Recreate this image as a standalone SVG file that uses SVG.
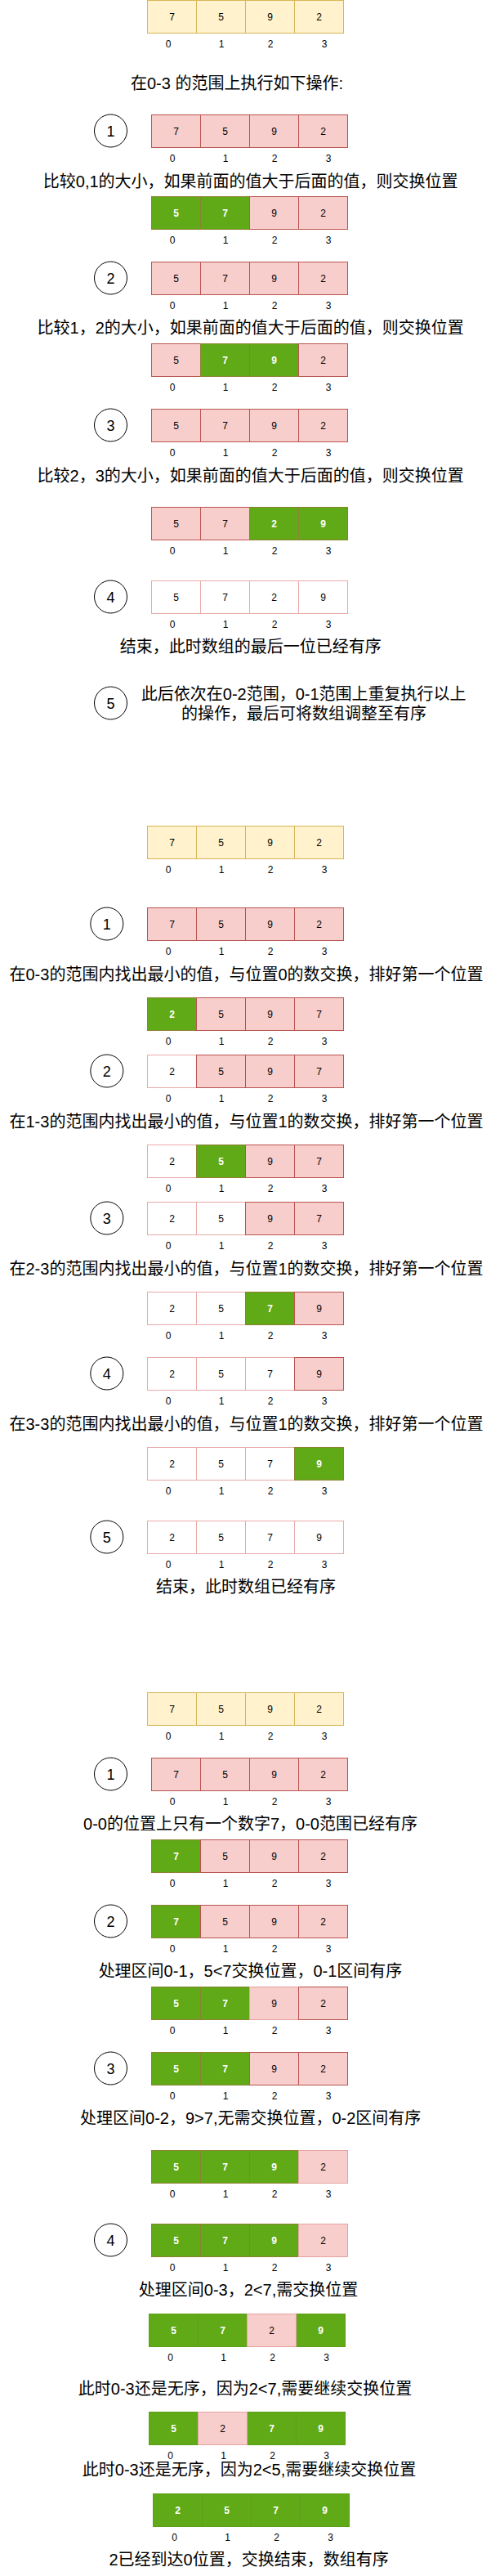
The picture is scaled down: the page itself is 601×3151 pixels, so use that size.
<svg xmlns="http://www.w3.org/2000/svg" width="601" height="3151" viewBox="0 0 601 3151">
<style>
.y{fill:#fff2cc;stroke:#d6b656}
.r{fill:#f8cecc;stroke:#b85450}
.p{fill:#f8cecc;stroke:#e6a3a1}
.w{fill:#ffffff;stroke:#e8aaa8}
.g{fill:#60a917;stroke:#8c8232}
.G{fill:#60a917;stroke:#5c9f18}
rect{stroke-width:1}
.v{font-family:"Liberation Sans",Arial,sans-serif;font-size:12px;fill:#000;text-anchor:middle}
.vw{font-family:"Liberation Sans",Arial,sans-serif;font-size:12px;fill:#fff;font-weight:bold;text-anchor:middle}
.i{font-family:"Liberation Sans",Arial,sans-serif;font-size:12px;fill:#000;text-anchor:middle}
.t{font-family:"Liberation Sans","Noto Sans CJK SC",sans-serif;font-size:20px;fill:#000;text-anchor:middle}
.c{fill:#fff;stroke:#000;stroke-width:1}
.cl{font-family:"Liberation Sans",Arial,sans-serif;font-size:18px;fill:#000;text-anchor:middle}
</style>
<rect x="0" y="0" width="601" height="3151" fill="#ffffff"/>
<g id="connectors"/>

<!-- Section 1 -->
<g id="A0">
<rect class="y" x="180.5" y="0.5" width="60" height="40"/><rect class="y" x="240.5" y="0.5" width="60" height="40"/><rect class="y" x="300.5" y="0.5" width="60" height="40"/><rect class="y" x="360.5" y="0.5" width="60" height="40"/>
<text class="v" x="210.5" y="24.5">7</text><text class="v" x="270.5" y="24.5">5</text><text class="v" x="330.5" y="24.5">9</text><text class="v" x="390.5" y="24.5">2</text>
<text class="i" x="206" y="58.3">0</text><text class="i" x="271" y="58.3">1</text><text class="i" x="331" y="58.3">2</text><text class="i" x="397" y="58.3">3</text>
</g>
<g id="title1"><text class="t" x="290" y="109">在0-3 的范围上执行如下操作:</text></g>

<g id="s1c1"><circle class="c" cx="135.5" cy="160" r="20"/><text class="cl" x="135.5" y="166.5">1</text></g>
<g id="A1">
<rect class="r" x="185.5" y="140.5" width="60" height="40"/><rect class="r" x="245.5" y="140.5" width="60" height="40"/><rect class="r" x="305.5" y="140.5" width="60" height="40"/><rect class="r" x="365.5" y="140.5" width="60" height="40"/>
<text class="v" x="215.5" y="164.5">7</text><text class="v" x="275.5" y="164.5">5</text><text class="v" x="335.5" y="164.5">9</text><text class="v" x="395.5" y="164.5">2</text>
<text class="i" x="211" y="198.3">0</text><text class="i" x="276" y="198.3">1</text><text class="i" x="336" y="198.3">2</text><text class="i" x="402" y="198.3">3</text>
</g>
<g id="s1t1"><text class="t" x="306.7" y="229">比较0,1的大小，如果前面的值大于后面的值，则交换位置</text></g>
<g id="A2">
<rect class="g" x="185.5" y="240.5" width="60" height="40"/><rect class="g" x="245.5" y="240.5" width="60" height="40"/><rect class="r" x="305.5" y="240.5" width="60" height="40"/><rect class="r" x="365.5" y="240.5" width="60" height="40"/>
<text class="vw" x="215.5" y="264.5">5</text><text class="vw" x="275.5" y="264.5">7</text><text class="v" x="335.5" y="264.5">9</text><text class="v" x="395.5" y="264.5">2</text>
<text class="i" x="211" y="298.3">0</text><text class="i" x="276" y="298.3">1</text><text class="i" x="336" y="298.3">2</text><text class="i" x="402" y="298.3">3</text>
</g>

<g id="s1c2"><circle class="c" cx="135.5" cy="340" r="20"/><text class="cl" x="135.5" y="346.5">2</text></g>
<g id="A3">
<rect class="r" x="185.5" y="320.5" width="60" height="40"/><rect class="r" x="245.5" y="320.5" width="60" height="40"/><rect class="r" x="305.5" y="320.5" width="60" height="40"/><rect class="r" x="365.5" y="320.5" width="60" height="40"/>
<text class="v" x="215.5" y="344.5">5</text><text class="v" x="275.5" y="344.5">7</text><text class="v" x="335.5" y="344.5">9</text><text class="v" x="395.5" y="344.5">2</text>
<text class="i" x="211" y="378.3">0</text><text class="i" x="276" y="378.3">1</text><text class="i" x="336" y="378.3">2</text><text class="i" x="402" y="378.3">3</text>
</g>
<g id="s1t2"><text class="t" x="306.7" y="408">比较1，2的大小，如果前面的值大于后面的值，则交换位置</text></g>
<g id="A4">
<rect class="r" x="185.5" y="420.5" width="60" height="40"/><rect class="g" x="245.5" y="420.5" width="60" height="40"/><rect class="g" x="305.5" y="420.5" width="60" height="40"/><rect class="r" x="365.5" y="420.5" width="60" height="40"/>
<text class="v" x="215.5" y="444.5">5</text><text class="vw" x="275.5" y="444.5">7</text><text class="vw" x="335.5" y="444.5">9</text><text class="v" x="395.5" y="444.5">2</text>
<text class="i" x="211" y="478.3">0</text><text class="i" x="276" y="478.3">1</text><text class="i" x="336" y="478.3">2</text><text class="i" x="402" y="478.3">3</text>
</g>

<g id="s1c3"><circle class="c" cx="135.5" cy="520" r="20"/><text class="cl" x="135.5" y="526.5">3</text></g>
<g id="A5">
<rect class="r" x="185.5" y="500.5" width="60" height="40"/><rect class="r" x="245.5" y="500.5" width="60" height="40"/><rect class="r" x="305.5" y="500.5" width="60" height="40"/><rect class="r" x="365.5" y="500.5" width="60" height="40"/>
<text class="v" x="215.5" y="524.5">5</text><text class="v" x="275.5" y="524.5">7</text><text class="v" x="335.5" y="524.5">9</text><text class="v" x="395.5" y="524.5">2</text>
<text class="i" x="211" y="558.3">0</text><text class="i" x="276" y="558.3">1</text><text class="i" x="336" y="558.3">2</text><text class="i" x="402" y="558.3">3</text>
</g>
<g id="s1t3"><text class="t" x="306.7" y="588.7">比较2，3的大小，如果前面的值大于后面的值，则交换位置</text></g>
<g id="A6">
<rect class="r" x="185.5" y="620.5" width="60" height="40"/><rect class="r" x="245.5" y="620.5" width="60" height="40"/><rect class="g" x="305.5" y="620.5" width="60" height="40"/><rect class="g" x="365.5" y="620.5" width="60" height="40"/>
<text class="v" x="215.5" y="644.5">5</text><text class="v" x="275.5" y="644.5">7</text><text class="vw" x="335.5" y="644.5">2</text><text class="vw" x="395.5" y="644.5">9</text>
<text class="i" x="211" y="678.3">0</text><text class="i" x="276" y="678.3">1</text><text class="i" x="336" y="678.3">2</text><text class="i" x="402" y="678.3">3</text>
</g>

<g id="s1c4"><circle class="c" cx="135.5" cy="730" r="20"/><text class="cl" x="135.5" y="736.5">4</text></g>
<g id="A7">
<rect class="w" x="185.5" y="710.5" width="60" height="40"/><rect class="w" x="245.5" y="710.5" width="60" height="40"/><rect class="w" x="305.5" y="710.5" width="60" height="40"/><rect class="w" x="365.5" y="710.5" width="60" height="40"/>
<text class="v" x="215.5" y="734.5">5</text><text class="v" x="275.5" y="734.5">7</text><text class="v" x="335.5" y="734.5">2</text><text class="v" x="395.5" y="734.5">9</text>
<text class="i" x="211" y="768.3">0</text><text class="i" x="276" y="768.3">1</text><text class="i" x="336" y="768.3">2</text><text class="i" x="402" y="768.3">3</text>
</g>
<g id="s1t4"><text class="t" x="306.7" y="798">结束，此时数组的最后一位已经有序</text></g>

<g id="s1c5"><circle class="c" cx="135.5" cy="860" r="20"/><text class="cl" x="135.5" y="866.5">5</text></g>
<g id="s1t5"><text class="t" x="371.7" y="856.3">此后依次在0-2范围，0-1范围上重复执行以上</text><text class="t" x="372" y="880.3">的操作，最后可将数组调整至有序</text></g>

<!-- Section 2 -->
<g id="B0">
<rect class="y" x="180.5" y="1010.5" width="60" height="40"/><rect class="y" x="240.5" y="1010.5" width="60" height="40"/><rect class="y" x="300.5" y="1010.5" width="60" height="40"/><rect class="y" x="360.5" y="1010.5" width="60" height="40"/>
<text class="v" x="210.5" y="1034.5">7</text><text class="v" x="270.5" y="1034.5">5</text><text class="v" x="330.5" y="1034.5">9</text><text class="v" x="390.5" y="1034.5">2</text>
<text class="i" x="206" y="1068.3">0</text><text class="i" x="271" y="1068.3">1</text><text class="i" x="331" y="1068.3">2</text><text class="i" x="397" y="1068.3">3</text>
</g>

<g id="s2c1"><circle class="c" cx="130.8" cy="1130" r="20"/><text class="cl" x="130.8" y="1136.5">1</text></g>
<g id="B1">
<rect class="r" x="180.5" y="1110.5" width="60" height="40"/><rect class="r" x="240.5" y="1110.5" width="60" height="40"/><rect class="r" x="300.5" y="1110.5" width="60" height="40"/><rect class="r" x="360.5" y="1110.5" width="60" height="40"/>
<text class="v" x="210.5" y="1134.5">7</text><text class="v" x="270.5" y="1134.5">5</text><text class="v" x="330.5" y="1134.5">9</text><text class="v" x="390.5" y="1134.5">2</text>
<text class="i" x="206" y="1168.3">0</text><text class="i" x="271" y="1168.3">1</text><text class="i" x="331" y="1168.3">2</text><text class="i" x="397" y="1168.3">3</text>
</g>
<g id="s2t1"><text class="t" x="301.5" y="1198.7">在0-3的范围内找出最小的值，与位置0的数交换，排好第一个位置</text></g>
<g id="B2">
<rect class="g" x="180.5" y="1220.5" width="60" height="40"/><rect class="r" x="240.5" y="1220.5" width="60" height="40"/><rect class="r" x="300.5" y="1220.5" width="60" height="40"/><rect class="r" x="360.5" y="1220.5" width="60" height="40"/>
<text class="vw" x="210.5" y="1244.5">2</text><text class="v" x="270.5" y="1244.5">5</text><text class="v" x="330.5" y="1244.5">9</text><text class="v" x="390.5" y="1244.5">7</text>
<text class="i" x="206" y="1278.3">0</text><text class="i" x="271" y="1278.3">1</text><text class="i" x="331" y="1278.3">2</text><text class="i" x="397" y="1278.3">3</text>
</g>

<g id="s2c2"><circle class="c" cx="130.8" cy="1310" r="20"/><text class="cl" x="130.8" y="1316.5">2</text></g>
<g id="B3">
<rect class="w" x="180.5" y="1290.5" width="60" height="40"/><rect class="r" x="240.5" y="1290.5" width="60" height="40"/><rect class="r" x="300.5" y="1290.5" width="60" height="40"/><rect class="r" x="360.5" y="1290.5" width="60" height="40"/>
<text class="v" x="210.5" y="1314.5">2</text><text class="v" x="270.5" y="1314.5">5</text><text class="v" x="330.5" y="1314.5">9</text><text class="v" x="390.5" y="1314.5">7</text>
<text class="i" x="206" y="1348.3">0</text><text class="i" x="271" y="1348.3">1</text><text class="i" x="331" y="1348.3">2</text><text class="i" x="397" y="1348.3">3</text>
</g>
<g id="s2t2"><text class="t" x="301.5" y="1378.7">在1-3的范围内找出最小的值，与位置1的数交换，排好第一个位置</text></g>
<g id="B4">
<rect class="w" x="180.5" y="1400.5" width="60" height="40"/><rect class="g" x="240.5" y="1400.5" width="60" height="40"/><rect class="r" x="300.5" y="1400.5" width="60" height="40"/><rect class="r" x="360.5" y="1400.5" width="60" height="40"/>
<text class="v" x="210.5" y="1424.5">2</text><text class="vw" x="270.5" y="1424.5">5</text><text class="v" x="330.5" y="1424.5">9</text><text class="v" x="390.5" y="1424.5">7</text>
<text class="i" x="206" y="1458.3">0</text><text class="i" x="271" y="1458.3">1</text><text class="i" x="331" y="1458.3">2</text><text class="i" x="397" y="1458.3">3</text>
</g>

<g id="s2c3"><circle class="c" cx="130.8" cy="1490" r="20"/><text class="cl" x="130.8" y="1496.5">3</text></g>
<g id="B5">
<rect class="w" x="180.5" y="1470.5" width="60" height="40"/><rect class="w" x="240.5" y="1470.5" width="60" height="40"/><rect class="r" x="300.5" y="1470.5" width="60" height="40"/><rect class="r" x="360.5" y="1470.5" width="60" height="40"/>
<text class="v" x="210.5" y="1494.5">2</text><text class="v" x="270.5" y="1494.5">5</text><text class="v" x="330.5" y="1494.5">9</text><text class="v" x="390.5" y="1494.5">7</text>
<text class="i" x="206" y="1528.3">0</text><text class="i" x="271" y="1528.3">1</text><text class="i" x="331" y="1528.3">2</text><text class="i" x="397" y="1528.3">3</text>
</g>
<g id="s2t3"><text class="t" x="301.5" y="1558.7">在2-3的范围内找出最小的值，与位置1的数交换，排好第一个位置</text></g>
<g id="B6">
<rect class="w" x="180.5" y="1580.5" width="60" height="40"/><rect class="w" x="240.5" y="1580.5" width="60" height="40"/><rect class="g" x="300.5" y="1580.5" width="60" height="40"/><rect class="r" x="360.5" y="1580.5" width="60" height="40"/>
<text class="v" x="210.5" y="1604.5">2</text><text class="v" x="270.5" y="1604.5">5</text><text class="vw" x="330.5" y="1604.5">7</text><text class="v" x="390.5" y="1604.5">9</text>
<text class="i" x="206" y="1638.3">0</text><text class="i" x="271" y="1638.3">1</text><text class="i" x="331" y="1638.3">2</text><text class="i" x="397" y="1638.3">3</text>
</g>

<g id="s2c4"><circle class="c" cx="130.8" cy="1680" r="20"/><text class="cl" x="130.8" y="1686.5">4</text></g>
<g id="B7">
<rect class="w" x="180.5" y="1660.5" width="60" height="40"/><rect class="w" x="240.5" y="1660.5" width="60" height="40"/><rect class="w" x="300.5" y="1660.5" width="60" height="40"/><rect class="r" x="360.5" y="1660.5" width="60" height="40"/>
<text class="v" x="210.5" y="1684.5">2</text><text class="v" x="270.5" y="1684.5">5</text><text class="v" x="330.5" y="1684.5">7</text><text class="v" x="390.5" y="1684.5">9</text>
<text class="i" x="206" y="1718.3">0</text><text class="i" x="271" y="1718.3">1</text><text class="i" x="331" y="1718.3">2</text><text class="i" x="397" y="1718.3">3</text>
</g>
<g id="s2t4"><text class="t" x="301.5" y="1748.7">在3-3的范围内找出最小的值，与位置1的数交换，排好第一个位置</text></g>
<g id="B8">
<rect class="w" x="180.5" y="1770.5" width="60" height="40"/><rect class="w" x="240.5" y="1770.5" width="60" height="40"/><rect class="w" x="300.5" y="1770.5" width="60" height="40"/><rect class="g" x="360.5" y="1770.5" width="60" height="40"/>
<text class="v" x="210.5" y="1794.5">2</text><text class="v" x="270.5" y="1794.5">5</text><text class="v" x="330.5" y="1794.5">7</text><text class="vw" x="390.5" y="1794.5">9</text>
<text class="i" x="206" y="1828.3">0</text><text class="i" x="271" y="1828.3">1</text><text class="i" x="331" y="1828.3">2</text><text class="i" x="397" y="1828.3">3</text>
</g>

<g id="s2c5"><circle class="c" cx="130.8" cy="1880" r="20"/><text class="cl" x="130.8" y="1886.5">5</text></g>
<g id="B9">
<rect class="w" x="180.5" y="1860.5" width="60" height="40"/><rect class="w" x="240.5" y="1860.5" width="60" height="40"/><rect class="w" x="300.5" y="1860.5" width="60" height="40"/><rect class="w" x="360.5" y="1860.5" width="60" height="40"/>
<text class="v" x="210.5" y="1884.5">2</text><text class="v" x="270.5" y="1884.5">5</text><text class="v" x="330.5" y="1884.5">7</text><text class="v" x="390.5" y="1884.5">9</text>
<text class="i" x="206" y="1918.3">0</text><text class="i" x="271" y="1918.3">1</text><text class="i" x="331" y="1918.3">2</text><text class="i" x="397" y="1918.3">3</text>
</g>
<g id="s2t5"><text class="t" x="301" y="1948">结束，此时数组已经有序</text></g>

<!-- Section 3 -->
<g id="C0">
<rect class="y" x="180.5" y="2070.5" width="60" height="40"/><rect class="y" x="240.5" y="2070.5" width="60" height="40"/><rect class="y" x="300.5" y="2070.5" width="60" height="40"/><rect class="y" x="360.5" y="2070.5" width="60" height="40"/>
<text class="v" x="210.5" y="2094.5">7</text><text class="v" x="270.5" y="2094.5">5</text><text class="v" x="330.5" y="2094.5">9</text><text class="v" x="390.5" y="2094.5">2</text>
<text class="i" x="206" y="2128.3">0</text><text class="i" x="271" y="2128.3">1</text><text class="i" x="331" y="2128.3">2</text><text class="i" x="397" y="2128.3">3</text>
</g>

<g id="s3c1"><circle class="c" cx="135.5" cy="2170" r="20"/><text class="cl" x="135.5" y="2176.5">1</text></g>
<g id="C1">
<rect class="r" x="185.5" y="2150.5" width="60" height="40"/><rect class="r" x="245.5" y="2150.5" width="60" height="40"/><rect class="r" x="305.5" y="2150.5" width="60" height="40"/><rect class="r" x="365.5" y="2150.5" width="60" height="40"/>
<text class="v" x="215.5" y="2174.5">7</text><text class="v" x="275.5" y="2174.5">5</text><text class="v" x="335.5" y="2174.5">9</text><text class="v" x="395.5" y="2174.5">2</text>
<text class="i" x="211" y="2208.3">0</text><text class="i" x="276" y="2208.3">1</text><text class="i" x="336" y="2208.3">2</text><text class="i" x="402" y="2208.3">3</text>
</g>
<g id="s3t1"><text class="t" x="306.5" y="2238">0-0的位置上只有一个数字7，0-0范围已经有序</text></g>
<g id="C2">
<rect class="g" x="185.5" y="2250.5" width="60" height="40"/><rect class="r" x="245.5" y="2250.5" width="60" height="40"/><rect class="r" x="305.5" y="2250.5" width="60" height="40"/><rect class="r" x="365.5" y="2250.5" width="60" height="40"/>
<text class="vw" x="215.5" y="2274.5">7</text><text class="v" x="275.5" y="2274.5">5</text><text class="v" x="335.5" y="2274.5">9</text><text class="v" x="395.5" y="2274.5">2</text>
<text class="i" x="211" y="2308.3">0</text><text class="i" x="276" y="2308.3">1</text><text class="i" x="336" y="2308.3">2</text><text class="i" x="402" y="2308.3">3</text>
</g>

<g id="s3c2"><circle class="c" cx="135.5" cy="2350" r="20"/><text class="cl" x="135.5" y="2356.5">2</text></g>
<g id="C3">
<rect class="g" x="185.5" y="2330.5" width="60" height="40"/><rect class="r" x="245.5" y="2330.5" width="60" height="40"/><rect class="r" x="305.5" y="2330.5" width="60" height="40"/><rect class="r" x="365.5" y="2330.5" width="60" height="40"/>
<text class="vw" x="215.5" y="2354.5">7</text><text class="v" x="275.5" y="2354.5">5</text><text class="v" x="335.5" y="2354.5">9</text><text class="v" x="395.5" y="2354.5">2</text>
<text class="i" x="211" y="2388.3">0</text><text class="i" x="276" y="2388.3">1</text><text class="i" x="336" y="2388.3">2</text><text class="i" x="402" y="2388.3">3</text>
</g>
<g id="s3t2"><text class="t" x="306.5" y="2417.7">处理区间0-1，5&lt;7交换位置，0-1区间有序</text></g>
<g id="C4">
<rect class="g" x="185.5" y="2430.5" width="60" height="40"/><rect class="g" x="245.5" y="2430.5" width="60" height="40"/><rect class="p" x="305.5" y="2430.5" width="60" height="40"/><rect class="r" x="365.5" y="2430.5" width="60" height="40"/>
<text class="vw" x="215.5" y="2454.5">5</text><text class="vw" x="275.5" y="2454.5">7</text><text class="v" x="335.5" y="2454.5">9</text><text class="v" x="395.5" y="2454.5">2</text>
<text class="i" x="211" y="2488.3">0</text><text class="i" x="276" y="2488.3">1</text><text class="i" x="336" y="2488.3">2</text><text class="i" x="402" y="2488.3">3</text>
</g>

<g id="s3c3"><circle class="c" cx="135.5" cy="2530" r="20"/><text class="cl" x="135.5" y="2536.5">3</text></g>
<g id="C5">
<rect class="g" x="185.5" y="2510.5" width="60" height="40"/><rect class="g" x="245.5" y="2510.5" width="60" height="40"/><rect class="r" x="305.5" y="2510.5" width="60" height="40"/><rect class="r" x="365.5" y="2510.5" width="60" height="40"/>
<text class="vw" x="215.5" y="2534.5">5</text><text class="vw" x="275.5" y="2534.5">7</text><text class="v" x="335.5" y="2534.5">9</text><text class="v" x="395.5" y="2534.5">2</text>
<text class="i" x="211" y="2568.3">0</text><text class="i" x="276" y="2568.3">1</text><text class="i" x="336" y="2568.3">2</text><text class="i" x="402" y="2568.3">3</text>
</g>
<g id="s3t3"><text class="t" x="306.7" y="2597.7">处理区间0-2，9&gt;7,无需交换位置，0-2区间有序</text></g>
<g id="C6">
<rect class="g" x="185.5" y="2630.5" width="60" height="40"/><rect class="g" x="245.5" y="2630.5" width="60" height="40"/><rect class="g" x="305.5" y="2630.5" width="60" height="40"/><rect class="p" x="365.5" y="2630.5" width="60" height="40"/>
<text class="vw" x="215.5" y="2654.5">5</text><text class="vw" x="275.5" y="2654.5">7</text><text class="vw" x="335.5" y="2654.5">9</text><text class="v" x="395.5" y="2654.5">2</text>
<text class="i" x="211" y="2688.3">0</text><text class="i" x="276" y="2688.3">1</text><text class="i" x="336" y="2688.3">2</text><text class="i" x="402" y="2688.3">3</text>
</g>

<g id="s3c4"><circle class="c" cx="135.5" cy="2740" r="20"/><text class="cl" x="135.5" y="2746.5">4</text></g>
<g id="C7">
<rect class="g" x="185.5" y="2720.5" width="60" height="40"/><rect class="g" x="245.5" y="2720.5" width="60" height="40"/><rect class="g" x="305.5" y="2720.5" width="60" height="40"/><rect class="p" x="365.5" y="2720.5" width="60" height="40"/>
<text class="vw" x="215.5" y="2744.5">5</text><text class="vw" x="275.5" y="2744.5">7</text><text class="vw" x="335.5" y="2744.5">9</text><text class="v" x="395.5" y="2744.5">2</text>
<text class="i" x="211" y="2778.3">0</text><text class="i" x="276" y="2778.3">1</text><text class="i" x="336" y="2778.3">2</text><text class="i" x="402" y="2778.3">3</text>
</g>
<g id="s3t4"><text class="t" x="304" y="2808">处理区间0-3，2&lt;7,需交换位置</text></g>
<g id="C8">
<rect class="G" x="182.5" y="2830.5" width="60" height="40"/><rect class="G" x="242.5" y="2830.5" width="60" height="40"/><rect class="G" x="362.5" y="2830.5" width="60" height="40"/><rect class="p" x="302.5" y="2830.5" width="60" height="40"/>
<text class="vw" x="212.5" y="2854.5">5</text><text class="vw" x="272.5" y="2854.5">7</text><text class="v" x="332.5" y="2854.5">2</text><text class="vw" x="392.5" y="2854.5">9</text>
<text class="i" x="208.5" y="2888.3">0</text><text class="i" x="273.5" y="2888.3">1</text><text class="i" x="333.5" y="2888.3">2</text><text class="i" x="399.5" y="2888.3">3</text>
</g>
<g id="s3t5"><text class="t" x="300" y="2928.7">此时0-3还是无序，因为2&lt;7,需要继续交换位置</text></g>
<g id="C9">
<rect class="G" x="182.5" y="2950.5" width="60" height="40"/><rect class="G" x="302.5" y="2950.5" width="60" height="40"/><rect class="G" x="362.5" y="2950.5" width="60" height="40"/><rect class="p" x="242.5" y="2950.5" width="60" height="40"/>
<text class="vw" x="212.5" y="2974.5">5</text><text class="v" x="272.5" y="2974.5">2</text><text class="vw" x="332.5" y="2974.5">7</text><text class="vw" x="392.5" y="2974.5">9</text>
<text class="i" x="208.5" y="3008.3">0</text><text class="i" x="273.5" y="3008.3">1</text><text class="i" x="333.5" y="3008.3">2</text><text class="i" x="399.5" y="3008.3">3</text>
</g>
<g id="s3t6"><text class="t" x="305" y="3028">此时0-3还是无序，因为2&lt;5,需要继续交换位置</text></g>
<g id="C10">
<rect class="G" x="187.5" y="3050.5" width="60" height="40"/><rect class="G" x="247.5" y="3050.5" width="60" height="40"/><rect class="G" x="307.5" y="3050.5" width="60" height="40"/><rect class="G" x="367.5" y="3050.5" width="60" height="40"/>
<text class="vw" x="217.5" y="3074.5">2</text><text class="vw" x="277.5" y="3074.5">5</text><text class="vw" x="337.5" y="3074.5">7</text><text class="vw" x="397.5" y="3074.5">9</text>
<text class="i" x="213.5" y="3108.3">0</text><text class="i" x="278.5" y="3108.3">1</text><text class="i" x="338.5" y="3108.3">2</text><text class="i" x="404.5" y="3108.3">3</text>
</g>
<g id="s3t7"><text class="t" x="304.6" y="3138">2已经到达0位置，交换结束，数组有序</text></g>
</svg>
